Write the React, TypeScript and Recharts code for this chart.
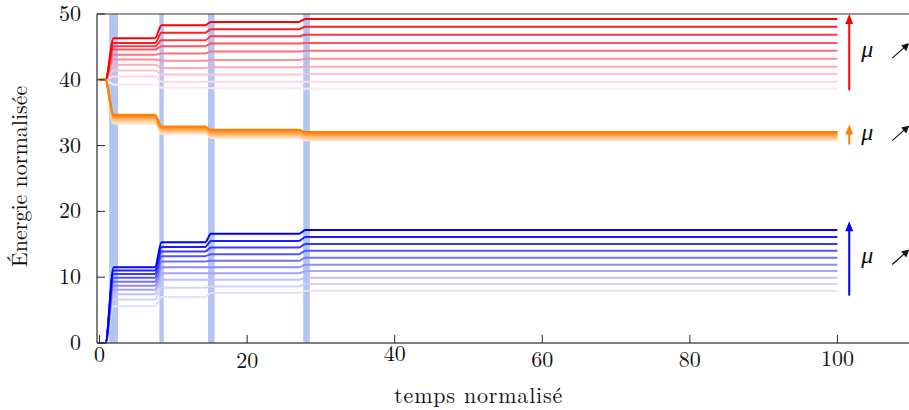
import { LineChart, Line, XAxis, YAxis, ReferenceArea, ReferenceLine } from 'recharts';

// time points where the plateaus start/end, and which plateau each belongs to
const times = [0, 0.8, 1.9, 7.5, 8.4, 14.3, 15.1, 27.0, 27.9, 100];
const stageOfTime = [0, 0, 1, 1, 2, 2, 3, 3, 4, 4];

// plateau levels, from the darkest line (top) to the lightest one
const redStart = 40;
const redStage1 = [46.3, 45.6, 45.1, 44.6, 43.8, 43.1, 42.3, 41.4, 40.5, 39.3];
const redStage2 = [48.3, 47.15, 46.0, 45.1, 44.0, 42.9, 41.8, 40.8, 39.7, 38.8];
const redStage3 = [48.8, 47.7, 46.6, 45.5, 44.3, 43.0, 41.9, 40.8, 39.7, 38.7];
const redStage4 = [49.25, 48.07, 46.85, 45.6, 44.4, 43.2, 42.0, 40.9, 39.7, 38.65];

const orangeStart = 40;
const orangeStage1 = [34.7, 34.55, 34.4, 34.25, 34.1, 33.95, 33.8, 33.65, 33.5, 33.35];
const orangeStage2 = [32.9, 32.78, 32.66, 32.54, 32.42, 32.3, 32.18, 32.06, 31.94, 31.8];
const orangeStage3 = [32.4, 32.26, 32.12, 31.98, 31.84, 31.7, 31.56, 31.42, 31.28, 31.15];
const orangeStage4 = [32.05, 31.9, 31.76, 31.62, 31.48, 31.34, 31.2, 31.06, 30.92, 30.8];

const blueStart = 0;
const blueStage1 = [11.5, 11.0, 10.5, 9.9, 9.3, 8.7, 8.1, 7.4, 6.6, 5.6];
const blueStage2 = [15.3, 14.6, 13.9, 13.2, 12.4, 11.5, 10.6, 9.6, 8.4, 7.0];
const blueStage3 = [16.6, 15.5, 14.5, 13.5, 12.5, 11.5, 10.6, 9.6, 8.6, 7.6];
const blueStage4 = [17.17, 16.1, 15.05, 14.03, 12.96, 11.9, 10.94, 9.92, 8.97, 7.95];

const redColors = ['#ff0000', '#ff1c24', '#ff3844', '#ff5460', '#ff707c', '#ff8c98', '#ffa8b4', '#ffc4d0', '#fdd9e6', '#fbe6f2'];
const orangeColors = ['#ff7f00', '#ff8c1a', '#ff9933', '#ffa64d', '#ffb366', '#ffbf80', '#ffcc99', '#ffd5aa', '#ffdfbf', '#ffe8d0'];
const blueColors = ['#0000ff', '#1c1cff', '#3838ff', '#5454ff', '#7070ff', '#8c8aff', '#a8a4ff', '#c4beff', '#d6d0ff', '#e6e0ff'];

// highlighted time windows
const bands = [[1.3, 2.5], [8.1, 8.7], [14.7, 15.6], [27.6, 28.5]];

const xTicks = [0, 20, 40, 60, 80, 100];
const yTicks = [0, 10, 20, 30, 40, 50];
const xTickDrop: Record<number, number> = { 0: 0, 20: 6, 40: -1, 60: 5, 80: 5, 100: 4 };

const arrowTime = 101.6;
const muArrows = [
  { from: 38.4, to: 50, color: '#ff0000' },
  { from: 30.15, to: 33.2, color: '#ff7f00' },
  { from: 7.2, to: 18.5, color: '#0000ff' },
];

const FONT = "'Latin Modern Roman', 'Liberation Serif', serif";
const textStyle = { fontFamily: FONT };

const groups = [
  { key: 'b', start: blueStart, stages: [blueStage1, blueStage2, blueStage3, blueStage4], colors: blueColors },
  { key: 'r', start: redStart, stages: [redStage1, redStage2, redStage3, redStage4], colors: redColors },
  { key: 'o', start: orangeStart, stages: [orangeStage1, orangeStage2, orangeStage3, orangeStage4], colors: orangeColors },
];

const data = times.map((t, i) => {
  const row: Record<string, number> = { t };
  const s = stageOfTime[i];
  groups.forEach(g => {
    for (let k = 0; k < 10; k++) {
      row[`${g.key}${k}`] = s === 0 ? g.start : g.stages[s - 1][k];
    }
  });
  return row;
});

const XTick = ({ x, y, payload }: any) => (
  <g>
    <line x1={x} x2={x} y1={y} y2={y - 8} stroke="#222" strokeWidth={1} />
    <text x={x} y={y + 19 + (xTickDrop[payload.value] ?? 0)} textAnchor="middle" style={textStyle} fontSize={22} fill="#111">
      {payload.value}
    </text>
  </g>
);

const YTick = ({ x, y, payload }: any) => (
  <g>
    <line x1={x} x2={x + 8} y1={y} y2={y} stroke="#222" strokeWidth={1} />
    <text x={x - 16} y={y + 7} textAnchor="end" style={textStyle} fontSize={22} fill="#111">
      {payload.value}
    </text>
  </g>
);

const MuArrow = (color: string) => (props: any) => {
  const { x1, y1, y2 } = props;
  const x = x1;
  const yLow = Math.max(y1, y2);
  const yTop = Math.min(y1, y2);
  const mid = (yLow + yTop) / 2;
  const ax = x + 43;
  const ay = mid + 6;
  const bx = x + 60;
  const by = mid - 9;
  return (
    <g>
      <line x1={x} x2={x} y1={yLow} y2={yTop + 8} stroke={color} strokeWidth={2} />
      <polygon points={`${x},${yTop} ${x - 4},${yTop + 10} ${x + 4},${yTop + 10}`} fill={color} />
      <text x={x + 18} y={mid + 5} textAnchor="middle" style={textStyle} fontStyle="italic" fontSize={24} fill="#111">
        μ
      </text>
      <line x1={ax} y1={ay} x2={bx - 4} y2={by + 3.5} stroke="#111" strokeWidth={1.2} />
      <polygon points={`${bx},${by} ${bx - 8},${by + 2} ${bx - 3},${by + 8}`} fill="#111" />
    </g>
  );
};

export default function App() {
  return (
    <div style={{ position: 'absolute', left: 0, top: 0 }}>
      <LineChart width={909} height={410} data={data} margin={{ top: 14, right: 0, bottom: 0, left: 0 }}>
        {bands.map(([a, b]) => (
          <ReferenceArea key={a} x1={a} x2={b} y1={0} y2={50} fill="#b3c6f2" fillOpacity={1} stroke="none" ifOverflow="visible" />
        ))}
        <XAxis
          dataKey="t"
          type="number"
          domain={[-0.35, 109.7]}
          ticks={xTicks}
          allowDataOverflow
          height={67}
          tickSize={0}
          tickMargin={0}
          tickLine={false}
          tick={<XTick />}
          axisLine={{ stroke: '#555', strokeWidth: 1.5 }}
          label={({ viewBox }: any) => (
            <text x={viewBox.x + viewBox.width * 0.47} y={viewBox.y + 60} textAnchor="middle" style={textStyle} fontSize={22} letterSpacing={0.8} fill="#111">
              temps normalisé
            </text>
          )}
        />
        <YAxis
          type="number"
          domain={[0, 50]}
          ticks={yTicks}
          width={97}
          tickSize={0}
          tickMargin={0}
          tickLine={false}
          tick={<YTick />}
          axisLine={{ stroke: '#555', strokeWidth: 1.5 }}
          label={({ viewBox }: any) => {
            const cx = viewBox.x + 17;
            const cy = viewBox.y + viewBox.height / 2 - 2;
            return (
              <text x={cx} y={cy} transform={`rotate(-90 ${cx} ${cy})`} textAnchor="middle" dominantBaseline="central" style={textStyle} fontSize={22} fill="#111">
                Énergie normalisée
              </text>
            );
          }}
        />
        <ReferenceLine y={50} stroke="#333" strokeWidth={1.2} />
        {groups.map(g =>
          g.colors
            .map((c, k) => (
              <Line
                key={`${g.key}${k}`}
                dataKey={`${g.key}${k}`}
                type="monotone"
                stroke={c}
                strokeWidth={2}
                dot={false}
                activeDot={false}
                isAnimationActive={false}
              />
            ))
            .reverse()
        )}
        {muArrows.map(a => (
          <ReferenceLine
            key={a.color}
            segment={[{ x: arrowTime, y: a.from }, { x: arrowTime, y: a.to }]}
            shape={MuArrow(a.color)}
            ifOverflow="visible"
          />
        ))}
      </LineChart>
    </div>
  );
}
